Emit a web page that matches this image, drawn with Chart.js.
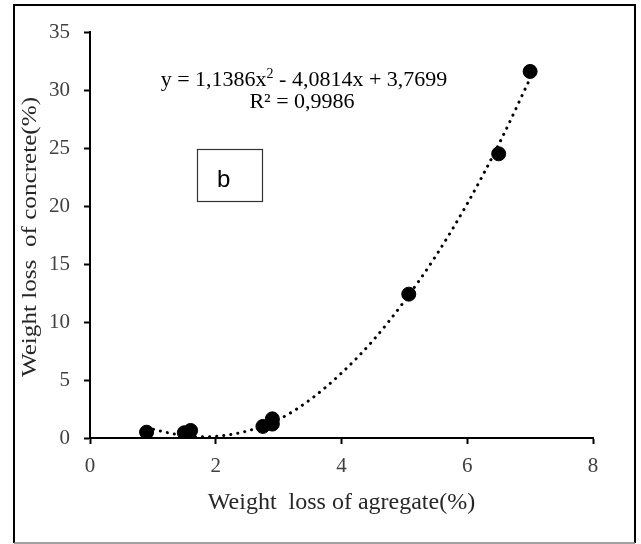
<!DOCTYPE html>
<html>
    <head>
        <title>Weight loss scatter</title>
        <script src="https://cdn.jsdelivr.net/npm/chart.js@4/dist/chart.umd.min.js"></script>
        <style>
            body { margin: 0; background: #fff; }
            canvas { display: block; }
        </style>
    </head>
    <body>
        <canvas id="chart" width="641" height="544"></canvas>

        <script>
            // measured points (weight loss of aggregate vs concrete, %)
            const aggregateLoss = [0.9, 1.5, 1.6, 2.75, 2.9, 2.9, 5.07, 6.5, 7.0]
            const concreteLoss = [0.5, 0.45, 0.65, 1.0, 1.2, 1.65, 12.4, 24.5, 31.6]

            // dotted polynomial trendline
            const trendX = [0.9, 1.2, 1.5, 1.8, 2.1, 2.5, 3.0, 3.5, 4.0, 4.5, 5.0, 5.5, 6.0, 6.5, 7.0]
            const trendY = [0.9, 0.5, 0.2, 0.1, 0.2, 0.6, 1.6, 3.3, 5.6, 8.4, 11.8, 15.7, 20.2, 25.3, 31.0]

            const xTicks = [0, 2, 4, 6, 8]
            const yTicks = [0, 5, 10, 15, 20, 25, 30, 35]

            const xTitle = 'Weight  loss of agregate(%)'
            const yTitle = 'Weight loss  of concrete(%)'
            const equation = ['y = 1,1386x', '2', ' - 4,0814x + 3,7699']
            const rSquared = 'R² = 0,9986'
            const panelLabel = 'b'

            const serif = '"Liberation Serif", "Times New Roman", serif'

            const zip = (xs, ys) => xs.map((x, i) => ({ x, y: ys[i] }))

            const decor = {
                id: 'decor',
                beforeDraw(chart) {
                    const { ctx } = chart
                    ctx.save()
                    ctx.fillStyle = '#fff'
                    ctx.fillRect(0, 0, chart.width, chart.height)
                    // outer frame
                    ctx.strokeStyle = '#000'
                    ctx.lineWidth = 2
                    ctx.beginPath()
                    ctx.moveTo(14, 543)
                    ctx.lineTo(14, 5)
                    ctx.lineTo(635, 5)
                    ctx.lineTo(635, 543)
                    ctx.stroke()
                    ctx.strokeStyle = '#808080'
                    ctx.lineWidth = 1.5
                    ctx.beginPath()
                    ctx.moveTo(14, 543)
                    ctx.lineTo(635, 543)
                    ctx.stroke()
                    ctx.restore()
                },
                afterDraw(chart) {
                    const { ctx } = chart
                    const yScale = chart.scales.y
                    ctx.save()
                    // y axis title: the source picture stretches it along its length
                    ctx.fillStyle = '#262626'
                    ctx.font = '20px ' + serif
                    ctx.textAlign = 'center'
                    ctx.textBaseline = 'middle'
                    const tw = ctx.measureText(yTitle).width
                    ctx.translate(31, (yScale.top + yScale.bottom) / 2 + 2)
                    ctx.rotate(-Math.PI / 2)
                    ctx.scale(280 / tw, 1)
                    ctx.fillText(yTitle, 0, 0)
                    ctx.restore()

                    ctx.save()
                    // trendline equation
                    ctx.fillStyle = '#000'
                    ctx.textBaseline = 'alphabetic'
                    const big = '22px ' + serif
                    const small = '14px ' + serif
                    ctx.font = big
                    const w0 = ctx.measureText(equation[0]).width
                    const w2 = ctx.measureText(equation[2]).width
                    ctx.font = small
                    const w1 = ctx.measureText(equation[1]).width
                    let x = 304 - (w0 + w1 + w2) / 2
                    const y1 = 86
                    ctx.font = big
                    ctx.fillText(equation[0], x, y1)
                    x += w0
                    ctx.font = small
                    ctx.fillText(equation[1], x, y1 - 8)
                    x += w1
                    ctx.font = big
                    ctx.fillText(equation[2], x, y1)
                    ctx.textAlign = 'center'
                    ctx.fillText(rSquared, 302, 108)
                    // panel label box
                    ctx.strokeStyle = '#333'
                    ctx.lineWidth = 1.2
                    ctx.strokeRect(197.5, 149.5, 65, 52)
                    ctx.font = '24px "Liberation Sans", Arial, sans-serif'
                    ctx.textAlign = 'left'
                    ctx.fillText(panelLabel, 217, 187)
                    ctx.restore()
                },
            }

            const chart = new Chart('chart', {
                type: 'scatter',
                data: {
                    datasets: [
                        {
                            label: 'Trend',
                            type: 'line',
                            data: zip(trendX, trendY),
                            borderColor: '#000',
                            borderWidth: 3,
                            borderDash: [0.1, 7],
                            borderCapStyle: 'round',
                            cubicInterpolationMode: 'monotone',
                            pointRadius: 0,
                            fill: false,
                        },
                        {
                            label: 'Data',
                            data: zip(aggregateLoss, concreteLoss),
                            backgroundColor: '#000',
                            borderColor: '#000',
                            pointRadius: 7,
                        },
                    ],
                },
                options: {
                    responsive: false,
                    animation: false,
                    layout: { padding: { top: 32, right: 48, left: 0, bottom: 0 } },
                    plugins: {
                        legend: { display: false },
                        tooltip: { enabled: false },
                    },
                    scales: {
                        x: {
                            type: 'linear',
                            min: 0,
                            max: 8,
                            afterFit: s => { s.height = 106 },
                            afterBuildTicks: s => { s.ticks = xTicks.map(v => ({ value: v })) },
                            border: { color: '#000', width: 2 },
                            grid: { drawOnChartArea: false, color: '#000', tickLength: 6, tickWidth: 2 },
                            ticks: { color: '#404040', padding: 10, font: { family: serif, size: 21 } },
                            title: {
                                display: true,
                                text: xTitle,
                                color: '#262626',
                                font: { family: serif, size: 24 },
                                padding: { bottom: 27 },
                            },
                        },
                        y: {
                            min: 0,
                            max: 35,
                            afterFit: s => { s.width = 90 },
                            afterBuildTicks: s => { s.ticks = yTicks.map(v => ({ value: v })) },
                            border: { color: '#000', width: 2 },
                            grid: { drawOnChartArea: false, color: '#000', tickLength: 6, tickWidth: 2 },
                            ticks: { color: '#404040', padding: 14, font: { family: serif, size: 21 } },
                        },
                    },
                },
                plugins: [decor],
            })
        </script>
    </body>
</html>
